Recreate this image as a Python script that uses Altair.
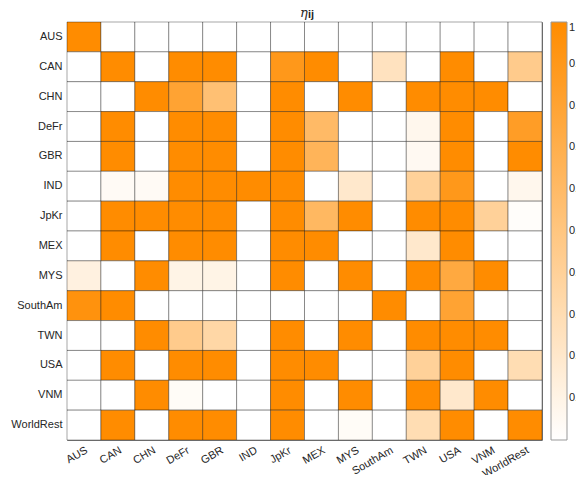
import altair as alt
import pandas as pd

countries = ["AUS", "CAN", "CHN", "DeFr", "GBR", "IND", "JpKr", "MEX", "MYS",
             "SouthAm", "TWN", "USA", "VNM", "WorldRest"]

# rows = exporter (y), columns = importer (x), order as countries
row_AUS = [1, 0, 0, 0, 0, 0, 0, 0, 0, 0, 0, 0, 0, 0]
row_CAN = [0, 1, 0, 1, 1, 0, 0.9, 1, 0, 0.25, 0, 1, 0, 0.45]
row_CHN = [0, 0, 1, 0.8, 0.55, 0, 1, 0, 1, 0, 1, 1, 1, 0]
row_DeFr = [0, 1, 0, 1, 1, 0, 1, 0.6, 0, 0, 0.07, 1, 0, 0.85]
row_GBR = [0, 1, 0, 1, 1, 0, 1, 0.65, 0, 0, 0.05, 1, 0, 1]
row_IND = [0, 0.04, 0.04, 1, 1, 1, 1, 0, 0.2, 0, 0.4, 0.9, 0, 0.07]
row_JpKr = [0, 1, 1, 1, 1, 0, 1, 0.62, 1, 0, 1, 1, 0.4, 0.02]
row_MEX = [0, 1, 0, 1, 1, 0, 1, 1, 0, 0, 0.2, 1, 0, 0]
row_MYS = [0.12, 0, 1, 0.1, 0.1, 0, 1, 0, 1, 0, 1, 0.75, 1, 0]
row_SouthAm = [0.95, 1, 0, 0, 0, 0, 0, 0, 0, 1, 0, 0.8, 0, 0]
row_TWN = [0, 0, 1, 0.45, 0.35, 0, 1, 0, 1, 0, 1, 1, 1, 0]
row_USA = [0, 1, 0, 1, 1, 0, 1, 1, 0, 0, 0.4, 1, 0, 0.3]
row_VNM = [0, 0, 1, 0.03, 0, 0, 1, 0, 1, 0, 1, 0.2, 1, 0]
row_WorldRest = [0, 1, 0, 1, 1, 0, 1, 0, 0.03, 0, 0.3, 1, 0, 1]

rows = [row_AUS, row_CAN, row_CHN, row_DeFr, row_GBR, row_IND, row_JpKr,
        row_MEX, row_MYS, row_SouthAm, row_TWN, row_USA, row_VNM, row_WorldRest]

legend_ticks = [0.1, 0.2, 0.3, 0.4, 0.5, 0.6, 0.7, 0.8, 0.9, 1]
title_symbol = ["η"]
title_sub = ["ij"]

records = []
for i, r in enumerate(rows):
    for j, v in enumerate(r):
        records.append({"row": countries[i], "col": countries[j], "eta": v})
df = pd.DataFrame(records)

FONT = "Liberation Sans"
TXT = "#262626"

heat = alt.Chart(df).mark_rect(
    stroke="#000000", strokeOpacity=0.35, strokeWidth=1
).encode(
    x=alt.X("col:N", sort=countries, title=None,
            scale=alt.Scale(paddingInner=0, paddingOuter=0),
            axis=alt.Axis(labelAngle=-30, labelAlign="right", labelBaseline="top",
                          ticks=False, domain=False, labelPadding=4,
                          labelFont=FONT, labelFontSize=11, labelColor=TXT)),
    y=alt.Y("row:N", sort=countries, title=None,
            scale=alt.Scale(paddingInner=0, paddingOuter=0),
            axis=alt.Axis(ticks=False, domain=False, labelPadding=5,
                          labelFont=FONT, labelFontSize=11, labelColor=TXT)),
    color=alt.Color("eta:Q",
                    scale=alt.Scale(domain=[0, 1], range=["#ffffff", "#ff8c00"],
                                    interpolate="rgb"),
                    legend=alt.Legend(title=None, orient="none", legendX=484, legendY=0,
                                      direction="vertical", gradientLength=418,
                                      gradientThickness=16, values=legend_ticks,
                                      format=".1~f", labelFont=FONT, labelFontSize=11,
                                      labelColor=TXT, labelOffset=2,
                                      labelBaseline="middle",
                                      gradientStrokeColor="#999999",
                                      gradientStrokeWidth=1)),
)

cb_ticks = alt.Chart(pd.DataFrame({"v": legend_ticks[:-1]})).mark_rule(
    color="#666666", strokeWidth=1
).encode(
    x=alt.value(496), x2=alt.value(500),
    y=alt.Y("v:Q", scale=alt.Scale(domain=[0, 1]), axis=None),
)

t1 = alt.Chart(pd.DataFrame({"t": title_symbol})).mark_text(
    font="DejaVu Serif", fontStyle="italic", fontSize=13, color=TXT,
    align="left", baseline="alphabetic"
).encode(x=alt.value(233), y=alt.value(-5), text="t:N")

t2 = alt.Chart(pd.DataFrame({"t": title_sub})).mark_text(
    font=FONT, fontWeight="bold", fontSize=11, color=TXT,
    align="left", baseline="alphabetic"
).encode(x=alt.value(241), y=alt.value(-4), text="t:N")

chart = alt.layer(heat, cb_ticks, t1, t2).resolve_scale(
    y="independent"
).properties(
    width=475, height=418,
    autosize=alt.AutoSizeParams(type="none"),
    padding={"left": 59, "top": 14, "right": 34, "bottom": 35},
).configure_view(stroke="#808080", strokeWidth=1)

chart.save("out.html", embed_options={"renderer": "svg", "actions": False})
